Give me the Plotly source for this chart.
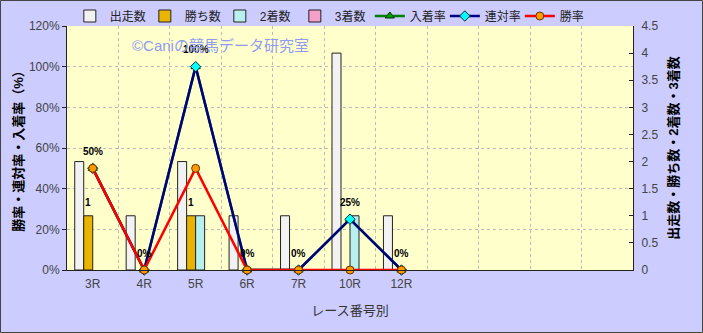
import plotly.graph_objects as go

categories = ['3R', '4R', '5R', '6R', '7R', '10R', '12R']
n_slots = 11
starts = [2, 1, 2, 1, 1, 4, 1]      # 出走数
wins = [1, 0, 1, 0, 0, 0, 0]        # 勝ち数
seconds = [0, 0, 1, 0, 0, 1, 0]     # 2着数
thirds = [0, 0, 0, 0, 0, 0, 0]      # 3着数
place_rate = [50, 0, 100, 0, 0, 25, 0]   # 入着率
quinella_rate = [50, 0, 100, 0, 0, 25, 0]  # 連対率
win_rate = [50, 0, 50, 0, 0, 0, 0]  # 勝率

xs = list(range(len(categories)))
FONT = "Arial, 'Liberation Sans', 'Noto Sans CJK JP', sans-serif"


def nz(vals):
    return [v if v else None for v in vals]


fig = go.Figure()
bar_line = dict(color='#222222', width=1)
fig.add_trace(go.Bar(x=xs, y=nz(starts), name='出走数', marker=dict(color='#F2F2F2', line=bar_line), yaxis='y'))
fig.add_trace(go.Bar(x=xs, y=nz(wins), name='勝ち数', marker=dict(color='#E8B400', line=bar_line), yaxis='y'))
fig.add_trace(go.Bar(x=xs, y=nz(seconds), name='2着数', marker=dict(color='#B8F0F0', line=bar_line), yaxis='y'))
fig.add_trace(go.Bar(x=xs, y=nz(thirds), name='3着数', marker=dict(color='#F4A0C8', line=bar_line), yaxis='y'))

fig.add_trace(go.Scatter(x=xs, y=place_rate, name='入着率', mode='lines+markers', yaxis='y2',
                         line=dict(color='#008000', width=2.5),
                         marker=dict(symbol='triangle-up', size=8, color='#00A000', line=dict(color='#003300', width=1)),
                         cliponaxis=False))
fig.add_trace(go.Scatter(x=xs, y=quinella_rate, name='連対率', mode='lines+markers', yaxis='y2',
                         line=dict(color='#000080', width=2.5),
                         marker=dict(symbol='diamond', size=8, color='#00FFFF', line=dict(color='#003333', width=1)),
                         cliponaxis=False))
fig.add_trace(go.Scatter(x=xs, y=win_rate, name='勝率', mode='lines+markers', yaxis='y2',
                         line=dict(color='#FF0000', width=2.5),
                         marker=dict(symbol='circle', size=8, color='#FF9900', line=dict(color='#663300', width=1)),
                         cliponaxis=False))

annotations = []
lab_font = dict(size=10, color='#000000', family=FONT, weight='bold')
for x, v in zip(xs, quinella_rate):
    annotations.append(dict(x=x, y=v, xref='x', yref='y2', text=f'{v}%', showarrow=False,
                            yshift=17, font=lab_font))
for x, v in zip(xs, wins):
    if v:
        annotations.append(dict(x=x - 0.087, y=v, xref='x', yref='y', text=str(v), showarrow=False,
                                yshift=13, font=lab_font))

W, H = 703, 333
L, R, T, B = 67, 70, 26, 63
pw, ph = W - L - R, H - T - B

annotations.append(dict(text='©Caniの競馬データ研究室', xref='paper', yref='paper',
                        x=(130 - L) / pw, y=(H - B - 45) / ph, xanchor='left', yanchor='middle',
                        showarrow=False, font=dict(size=15, color='#909CF4')))

fig.update_layout(
    width=W, height=H,
    margin=dict(l=L, r=R, t=T, b=B, autoexpand=False),
    paper_bgcolor='#CCCCFF', plot_bgcolor='#FFFFCC',
    font=dict(family=FONT, size=12, color='#333333'),
    barmode='group', bargap=0.3, bargroupgap=0,
    showlegend=True,
    legend=dict(orientation='h', x=0.005, xanchor='left', y=1 + 10 / ph, yanchor='middle',
                bgcolor='rgba(0,0,0,0)', font=dict(size=12, color='#222222'),
                itemwidth=30, entrywidth=30, entrywidthmode='pixels',
                tracegroupgap=0, traceorder='normal'),
    xaxis=dict(range=[-0.5, n_slots - 0.5], tickmode='array', tickvals=xs, ticktext=categories,
               showgrid=False, zeroline=False, showline=True, linecolor='#222222', linewidth=1,
               ticks='', tickfont=dict(size=12, color='#444444'), ticklabelstandoff=3,
               minor=dict(tickmode='array', tickvals=[i + 0.5 for i in range(n_slots - 1)],
                          showgrid=True, gridcolor='#BBBBBB', griddash='dot', gridwidth=1, ticks=''),
               title=dict(text='レース番号別', font=dict(size=13, color='#333333'), standoff=15)),
    yaxis=dict(range=[0, 4.5], dtick=0.5, side='right', showgrid=False, zeroline=False,
               showline=True, linecolor='#222222', linewidth=1, ticks='inside', ticklen=4,
               tickcolor='#222222', tickfont=dict(size=12, color='#444444'), ticklabelstandoff=5,
               title=dict(text='出走数・勝ち数・2着数・3着数',
                          font=dict(size=13, color='#000000', weight='bold'), standoff=11)),
    yaxis2=dict(range=[0, 120], dtick=20, ticksuffix='%', side='left', overlaying='y',
                showgrid=True, gridcolor='#BBBBBB', griddash='dot', gridwidth=1, zeroline=False,
                showline=True, linecolor='#222222', linewidth=1, ticks='outside', ticklen=4,
                tickcolor='#222222', tickfont=dict(size=12, color='#444444'),
                title=dict(text='勝率・連対率・入着率（%）',
                           font=dict(size=13, color='#000000', weight='bold'), standoff=2)),
    annotations=annotations,
    shapes=[dict(type='rect', xref='paper', yref='paper',
                 x0=(0.5 - L) / pw, x1=(W - 0.5 - L) / pw,
                 y0=(H - B - (H - 0.5)) / ph, y1=(H - B - 0.5) / ph,
                 line=dict(color='#444444', width=1), fillcolor='rgba(0,0,0,0)', layer='above')],
)

fig.write_html('out.html')
